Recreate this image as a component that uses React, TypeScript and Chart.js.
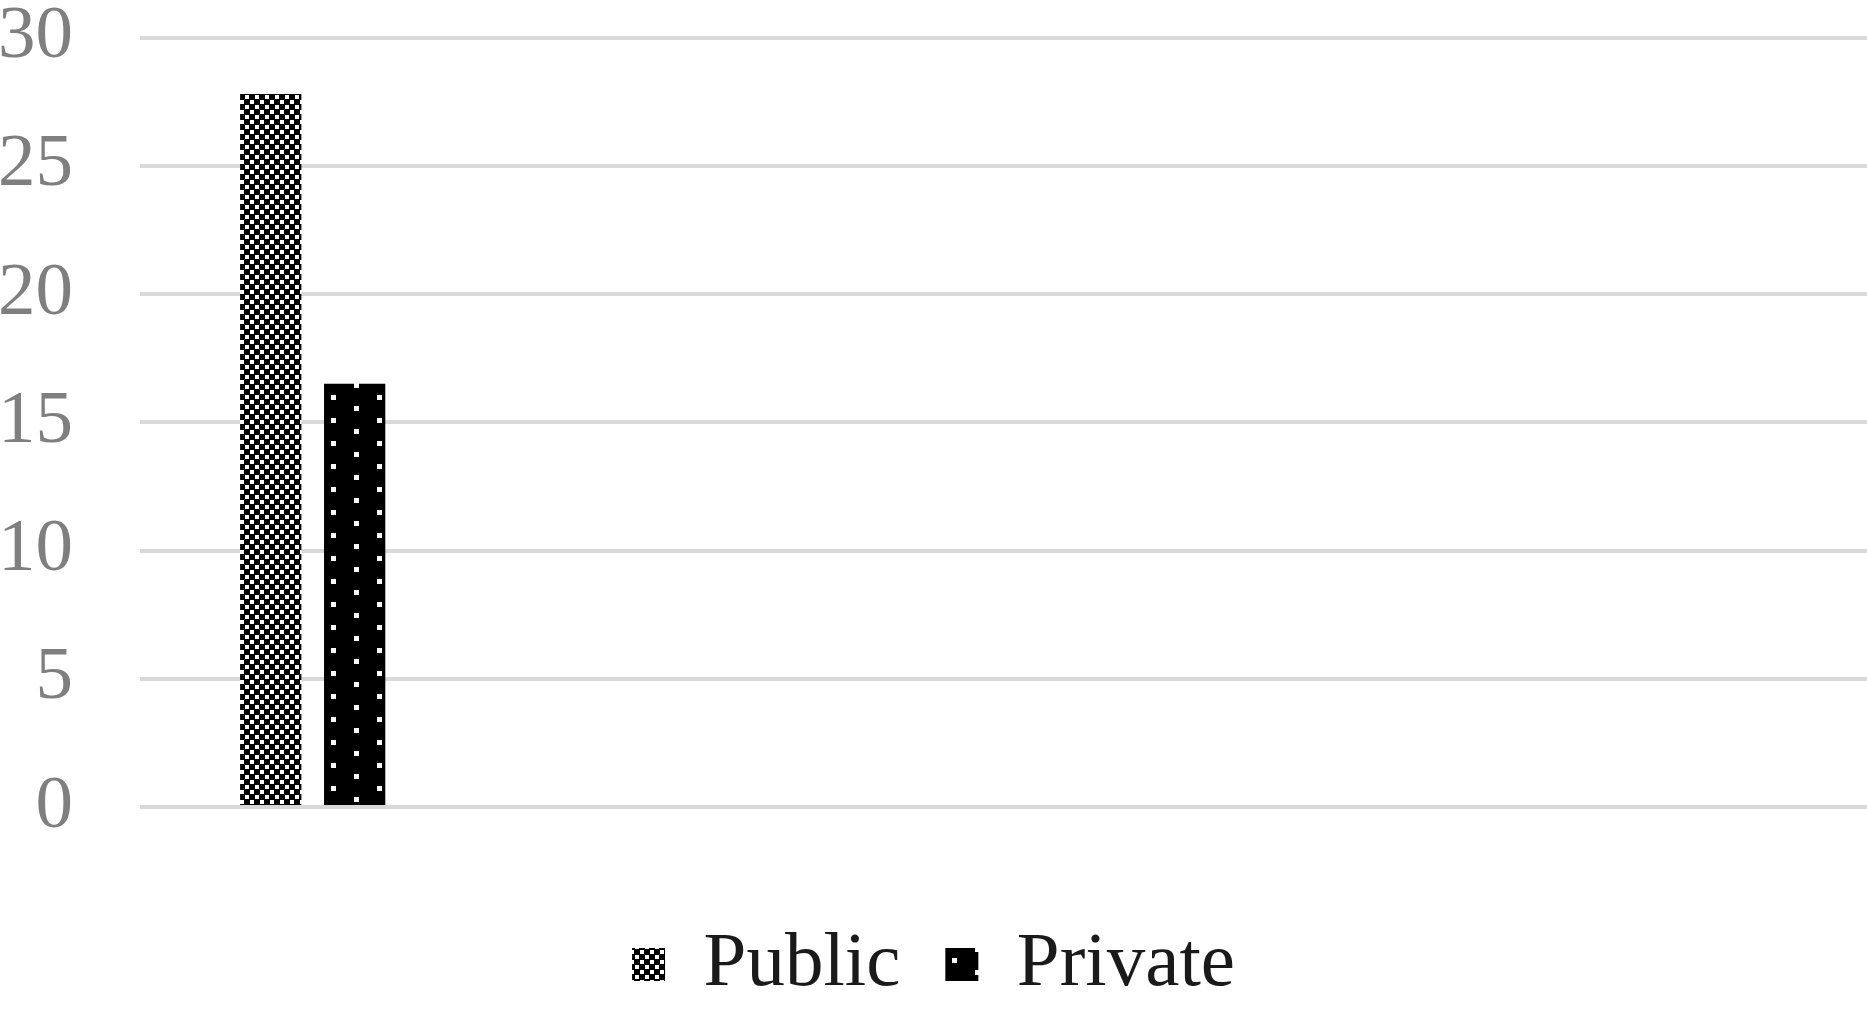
import React, { useEffect, useRef } from 'react';
import { Chart, registerables } from 'chart.js';

Chart.register(...registerables);

// Data
const categories = ['', '', '', '', ''];
const publicValues = [27.8, null, null, null, null];
const privateValues = [16.5, null, null, null, null];
const yTicks = [0, 5, 10, 15, 20, 25, 30];

// Excel-like "small checker" fill
const makeCheckerPattern = (ctx: CanvasRenderingContext2D) => {
  const tile = document.createElement('canvas');
  tile.width = 10;
  tile.height = 10;
  const t = tile.getContext('2d')!;
  t.fillStyle = '#000';
  t.fillRect(0, 0, 10, 10);
  t.fillStyle = '#fff';
  t.fillRect(0, 0, 4, 4);
  t.fillRect(5, 5, 4, 4);
  return ctx.createPattern(tile, 'repeat') as CanvasPattern;
};

// black fill with sparse white dots
const makeDotPattern = (ctx: CanvasRenderingContext2D) => {
  const tile = document.createElement('canvas');
  tile.width = 46;
  tile.height = 23;
  const t = tile.getContext('2d')!;
  t.fillStyle = '#000';
  t.fillRect(0, 0, 46, 23);
  t.fillStyle = '#fff';
  t.fillRect(9, 4, 5, 5);
  t.fillRect(32, 15, 5, 5);
  return ctx.createPattern(tile, 'repeat') as CanvasPattern;
};

const App: React.FC = () => {
  const chartRef = useRef<HTMLCanvasElement | null>(null);
  const chartInstance = useRef<Chart | null>(null);

  useEffect(() => {
    document.body.style.margin = '0';
    if (!chartRef.current) return;
    const ctx = chartRef.current.getContext('2d');
    if (!ctx) return;

    if (chartInstance.current) {
      chartInstance.current.destroy();
    }

    chartInstance.current = new Chart(ctx, {
      type: 'bar',
      data: {
        labels: categories,
        datasets: [
          {
            label: 'Public',
            data: publicValues,
            backgroundColor: makeCheckerPattern(ctx),
            borderWidth: 0,
          },
          {
            label: 'Private',
            data: privateValues,
            backgroundColor: makeDotPattern(ctx),
            borderWidth: 0,
          },
        ],
      },
      options: {
        responsive: true,
        maintainAspectRatio: false,
        animation: false,
        categoryPercentage: 0.486,
        barPercentage: 0.73,
        layout: {
          padding: { left: 0, right: 0, top: 0, bottom: 0 },
        },
        plugins: {
          tooltip: { enabled: false },
          legend: {
            position: 'bottom',
            labels: {
              color: '#1a1a1a',
              font: { family: 'Liberation Serif', size: 77 },
              boxWidth: 33,
              boxHeight: 33,
              padding: 45,
            },
          },
        },
        scales: {
          x: {
            grid: { display: false },
            border: { display: false },
            ticks: { display: false },
            afterFit: (axis: any) => {
              axis.height = 74;
            },
          },
          y: {
            min: 0,
            max: 30,
            afterBuildTicks: (axis: any) => {
              axis.ticks = yTicks.map(v => ({ value: v }));
            },
            afterFit: (axis: any) => {
              axis.width = 140;
            },
            grid: {
              color: '#d9d9d9',
              lineWidth: 4,
              drawTicks: true,
              tickLength: 67,
              tickColor: 'rgba(0,0,0,0)',
            },
            border: { display: false },
            ticks: {
              color: '#7f7f7f',
              font: { family: 'Liberation Serif', size: 75, lineHeight: 1 },
              padding: 0,
            },
          },
        },
      },
    });

    return () => {
      if (chartInstance.current) {
        chartInstance.current.destroy();
        chartInstance.current = null;
      }
    };
  }, []);

  return (
    <div style={{ position: 'fixed', left: 0, top: 0, width: '1867px', height: '1013px', background: '#fff' }}>
      <canvas ref={chartRef} style={{ width: '100%', height: '100%' }} />
    </div>
  );
};

export default App;
